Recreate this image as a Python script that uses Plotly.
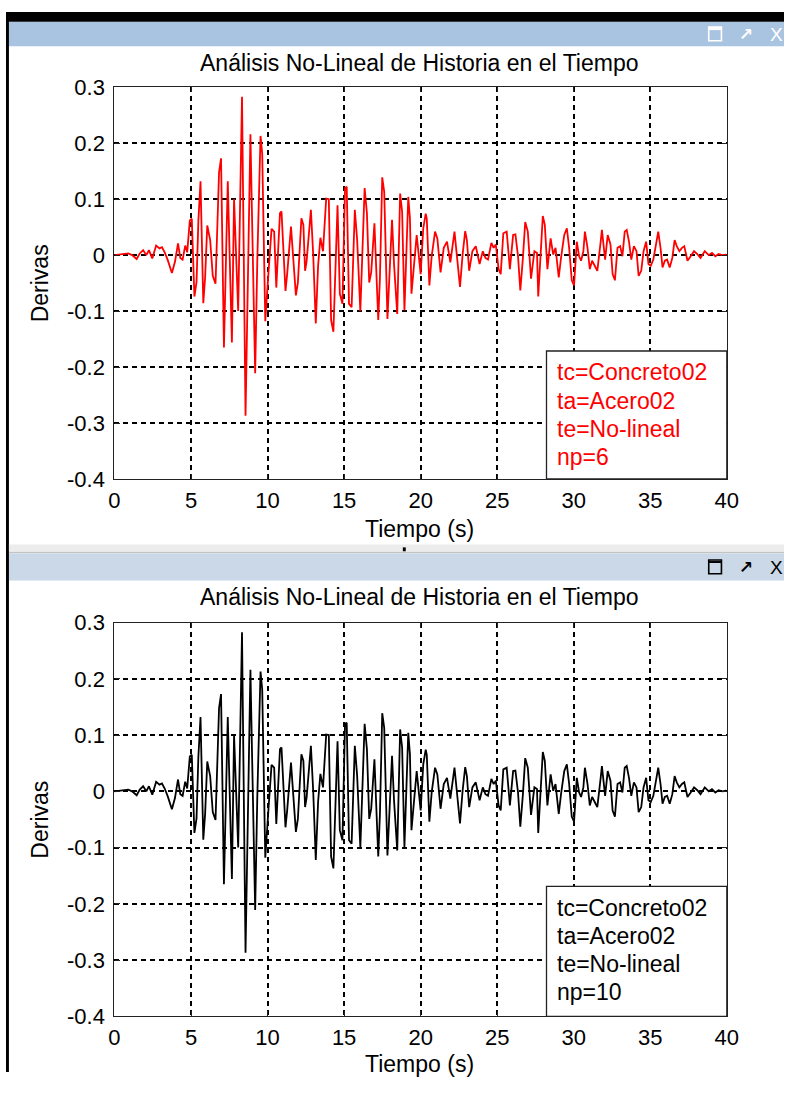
import plotly.graph_objects as go

# Drift time history (s, drift) read at the turning points of the response
tiempo = [
    0.0, 0.5, 0.9, 1.15, 1.45, 1.65, 1.87, 2.08, 2.25, 2.47, 2.72, 2.94, 3.10, 3.28, 3.48, 3.75, 3.95,
    4.15, 4.30, 4.45, 4.62, 4.75, 4.92, 5.05, 5.22, 5.36, 5.48, 5.62, 5.80, 5.92, 6.06, 6.25, 6.42,
    6.60, 6.83, 6.96, 7.15, 7.40, 7.67, 7.81, 8.08, 8.23, 8.33, 8.56, 8.77, 8.88, 8.98, 9.19, 9.33,
    9.54, 9.65, 9.85, 10.06, 10.17, 10.26, 10.43, 10.57, 10.81, 10.91, 11.17, 11.28, 11.53, 11.85,
    11.98, 12.21, 12.34, 12.45, 12.55, 12.83, 12.98, 13.15, 13.30, 13.45, 13.62, 13.72, 13.83, 14.00,
    14.15, 14.30, 14.57, 14.72, 14.89, 15.06, 15.17, 15.32, 15.49, 15.70, 15.85, 16.06, 16.34, 16.49,
    16.64, 16.77, 16.98, 17.23, 17.34, 17.49, 17.62, 17.83, 18.13, 18.26, 18.47, 18.66, 18.79, 18.94,
    19.19, 19.30, 19.40, 19.74, 20.00, 20.17, 20.33, 20.40, 20.57, 20.72, 20.94, 21.09, 21.30, 21.51,
    21.72, 21.94, 22.21, 22.36, 22.57, 22.74, 22.91, 23.02, 23.17, 23.38, 23.60, 23.85, 24.06, 24.23,
    24.40, 24.62, 24.77, 24.91, 25.09, 25.23, 25.40, 25.62, 25.83, 26.04, 26.19, 26.36, 26.51, 26.68,
    26.83, 27.00, 27.21, 27.43, 27.60, 27.68, 27.85, 27.98, 28.11, 28.28, 28.49, 28.66, 28.81, 29.02,
    29.17, 29.38, 29.55, 29.70, 29.87, 30.02, 30.20, 30.35, 30.48, 30.63, 30.73, 30.90, 31.05, 31.20,
    31.37, 31.54, 31.76, 31.84, 32.05, 32.22, 32.40, 32.54, 32.69, 32.86, 33.03, 33.18, 33.33, 33.46,
    33.61, 33.76, 33.93, 34.10, 34.24, 34.41, 34.56, 34.73, 34.88, 35.03, 35.20, 35.37, 35.52, 35.67,
    35.80, 35.95, 36.10, 36.27, 36.44, 36.59, 36.73, 36.90, 37.07, 37.22, 37.43, 37.64, 37.86, 38.07,
    38.28, 38.56, 38.82, 39.03, 39.25, 39.46, 39.71, 39.93, 40.00,
]

derivas = [
    0.000, 0.001, 0.003, 0.000, -0.007, 0.003, 0.009, 0.000, 0.009, -0.006, 0.017, 0.012, 0.014, 0.005,
    -0.009, -0.032, -0.012, 0.021, -0.005, -0.008, 0.017, 0.005, 0.062, 0.065, -0.074, -0.048, 0.062,
    0.132, -0.086, -0.040, 0.053, 0.027, -0.037, -0.051, 0.148, 0.173, -0.165, 0.132, -0.156, 0.100,
    -0.100, 0.129, 0.283, -0.287, 0.077, 0.216, 0.074, -0.211, -0.008, 0.213, 0.181, -0.118, -0.031,
    0.013, 0.047, 0.042, -0.058, 0.075, 0.078, -0.064, -0.034, 0.051, -0.072, -0.049, 0.066, 0.054,
    -0.028, -0.011, 0.081, 0.001, -0.122, -0.019, 0.031, 0.007, 0.048, 0.101, 0.100, -0.116, -0.137,
    0.089, -0.069, -0.087, 0.120, 0.122, -0.087, -0.093, 0.081, 0.028, -0.100, 0.120, 0.075, -0.049,
    -0.031, 0.057, -0.116, -0.040, 0.139, 0.113, -0.114, 0.063, -0.016, -0.105, 0.110, 0.078, -0.099,
    0.104, 0.066, -0.069, 0.036, -0.034, 0.048, 0.074, 0.065, -0.054, -0.002, 0.042, 0.030, -0.031,
    0.013, 0.024, -0.013, 0.042, 0.001, -0.057, 0.001, 0.043, 0.027, -0.028, 0.007, 0.016, -0.016,
    0.007, -0.005, -0.008, 0.022, 0.013, 0.019, -0.025, -0.034, 0.039, 0.042, -0.025, 0.036, 0.037,
    -0.002, -0.063, -0.005, 0.059, 0.042, -0.042, 0.007, 0.004, -0.074, 0.007, 0.070, 0.054, -0.025,
    0.030, 0.001, 0.013, -0.040, -0.005, 0.036, 0.048, 0.013, -0.045, -0.054, 0.024, -0.002, -0.010,
    0.007, 0.042, 0.013, -0.025, -0.010, -0.019, -0.028, 0.024, 0.045, -0.008, 0.036, 0.019, -0.034,
    -0.045, 0.013, 0.016, -0.002, 0.042, 0.045, 0.024, -0.008, 0.016, 0.007, -0.037, -0.028, 0.007,
    0.024, -0.016, -0.019, -0.008, 0.019, 0.042, 0.013, -0.022, -0.010, -0.008, -0.022, -0.005, 0.027,
    0.016, 0.007, 0.013, 0.016, -0.010, -0.002, 0.007, 0.002, -0.005, 0.007, 0.000, 0.004, -0.002,
    0.002, 0.000, 0.001, 0.000,
]

x_ticks = [0, 5, 10, 15, 20, 25, 30, 35, 40]
y_ticks = [-0.4, -0.3, -0.2, -0.1, 0, 0.1, 0.2, 0.3]
y_tick_text = ["-0.4", "-0.3", "-0.2", "-0.1", "0", "0.1", "0.2", "0.3"]

titulo = "Análisis No-Lineal de Historia en el Tiempo"
etiqueta_x = "Tiempo (s)"
etiqueta_y = "Derivas"

# One panel per number of integration points
paneles = [
    {"np": 6, "color": "#ff0000", "barra": "#a9c4e0", "iconos": "white"},
    {"np": 10, "color": "#000000", "barra": "#cad8e7", "iconos": "black"},
]
leyenda = ["tc=Concreto02", "ta=Acero02", "te=No-lineal"]

# The page body keeps its default 8px margin, so the figure is sized to fill
# the remaining 796x1085 area and page coordinates are shifted by that margin.
PAGE_W, PAGE_H, BODY = 812, 1101, 8
W, H = PAGE_W - 2 * BODY, PAGE_H - 2 * BODY
FONT = "Liberation Sans, Arial, sans-serif"
FS = 23
FS_TICK = 22


def px(x):
    return min(max((x - BODY) / W, 0.0), 1.0)


def py(y):
    return min(max(1 - (y - BODY) / H, 0.0), 1.0)


def texto(text, x, y, size=FS, color="black", xanchor="center", family=FONT, **kw):
    return dict(text=text, x=px(x), y=py(y), xref="paper", yref="paper", showarrow=False,
                xanchor=xanchor, yanchor="middle", font=dict(family=family, size=size, color=color), **kw)


# Page-pixel frames for each window: title bar, axes box and text rows
marcos = [
    {"bar": (18, 43), "ax": (85, 486), "title": 60, "xlab": 537, "legend_top": 355},
    {"bar": (562, 590), "ax": (633, 1036), "title": 607, "xlab": 1085, "legend_top": 903},
]
AX_L, AX_R = 119, 745.5

fig = go.Figure()
shapes = []
annotations = []

for i, (panel, marco) in enumerate(zip(paneles, marcos)):
    n = i + 1
    xa = "x" if n == 1 else f"x{n}"
    ya = "y" if n == 1 else f"y{n}"
    fig.add_trace(go.Scatter(
        x=tiempo, y=derivas, mode="lines",
        line=dict(color=panel["color"], width=1.8),
        xaxis=xa, yaxis=ya, showlegend=False, hoverinfo="skip",
    ))
    top, bot = marco["ax"]
    axis_common = dict(
        showline=True, linecolor="#222222", linewidth=1.3, mirror="allticks",
        ticks="inside", ticklen=5, tickcolor="#222222", tickwidth=1,
        showgrid=True, gridcolor="black", gridwidth=1.5, griddash="5px,4px",
        zeroline=False, tickfont=dict(family=FONT, size=FS_TICK, color="black"),
        fixedrange=True,
    )
    fig.update_layout({
        f"xaxis{'' if n == 1 else n}": dict(
            domain=[px(AX_L), px(AX_R)], range=[0, 40], tickvals=x_ticks,
            anchor=ya, ticklabelstandoff=1, **axis_common),
        f"yaxis{'' if n == 1 else n}": dict(
            domain=[py(bot), py(top)], range=[-0.4, 0.3], tickvals=y_ticks,
            ticktext=y_tick_text, anchor=xa, ticklabelstandoff=4, **axis_common),
    })

    # Window title bar with its buttons
    b0, b1 = marco["bar"]
    shapes.append(dict(type="rect", xref="paper", yref="paper", x0=px(11), x1=1,
                       y0=py(b1), y1=py(b0), fillcolor=panel["barra"], line_width=0, layer="below"))
    bc = (b0 + b1) / 2
    shapes.append(dict(type="rect", xref="paper", yref="paper", x0=px(727), x1=px(740),
                       y0=py(bc + 7), y1=py(bc - 7), line=dict(color=panel["iconos"], width=1.6),
                       fillcolor="rgba(0,0,0,0)"))
    shapes.append(dict(type="line", xref="paper", yref="paper", x0=px(727), x1=px(740),
                       y0=py(bc - 5), y1=py(bc - 5), line=dict(color=panel["iconos"], width=2)))
    annotations.append(texto("<b>↗</b>", 765, bc, size=17, color=panel["iconos"], family="DejaVu Sans"))
    annotations.append(texto("X", 796, bc + 1, size=19, color=panel["iconos"]))

    # Title and axis labels
    annotations.append(texto(titulo, 431, marco["title"]))
    annotations.append(texto(etiqueta_x, 431, marco["xlab"]))
    annotations.append(texto(etiqueta_y, 43, (top + bot) / 2, textangle=-90))

    # Text box with the model description
    lt = marco["legend_top"]
    shapes.append(dict(type="rect", xref="paper", yref="paper", x0=px(561), x1=px(AX_R),
                       y0=py(bot), y1=py(lt), fillcolor="white",
                       line=dict(color="#222222", width=1.3), layer="above"))
    lineas = leyenda + [f"np={panel['np']}"]
    for k, linea in enumerate(lineas):
        annotations.append(texto(linea, 570, lt + 22 + k * 28.7, color=panel["color"], xanchor="left"))

# Window frame: dark border on the left and top, separator between the two windows
shapes += [
    dict(type="rect", xref="paper", yref="paper", x0=0, x1=1, y0=py(18), y1=1,
         fillcolor="black", line_width=0, layer="below"),
    dict(type="rect", xref="paper", yref="paper", x0=0, x1=px(11), y0=0, y1=1,
         fillcolor="black", line_width=0, layer="below"),
    dict(type="rect", xref="paper", yref="paper", x0=px(11), x1=1, y0=py(560), y1=py(553),
         fillcolor="#ececec", line_width=0, layer="below"),
    dict(type="line", xref="paper", yref="paper", x0=px(11), x1=1, y0=py(561), y1=py(561),
         line=dict(color="#b0b0b0", width=1), layer="below"),
    dict(type="rect", xref="paper", yref="paper", x0=px(414), x1=px(417), y0=py(560), y1=py(556),
         fillcolor="black", line_width=0),
]

fig.update_layout(
    width=W, height=H, margin=dict(l=0, r=0, t=0, b=0),
    paper_bgcolor="white", plot_bgcolor="white",
    shapes=shapes, annotations=annotations, showlegend=False,
)

fig.write_html("out.html", config={"displayModeBar": False})
